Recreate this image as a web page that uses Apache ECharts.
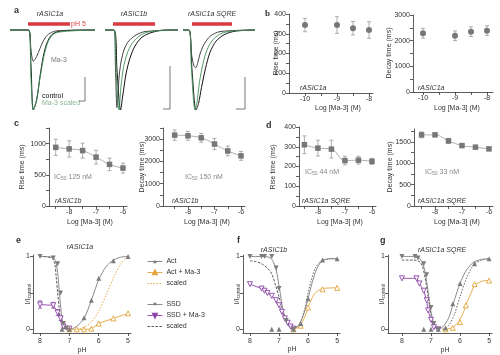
<!DOCTYPE html>
<html><head><meta charset="utf-8">
<script src="https://cdn.jsdelivr.net/npm/echarts@6/dist/echarts.min.js"></script>
<style>html,body{margin:0;padding:0;background:#fff}#c{width:500px;height:355px}</style>
</head><body><div id="c"></div><script>
// ---------- Panel a: current traces (time, normalized current) ----------
const a1Control = [[0,0],[1.85,0],[2.1,-0.45],[2.33,-1.0],[2.67,-0.875],[3.0,-0.58],[3.33,-0.33],[3.67,-0.17],[4.17,-0.06],[4.8,-0.02],[6,-0.005],[8.5,0]];
const a1Ma3 = [[0,0],[1.85,0],[2.1,-0.25],[2.33,-0.39],[2.67,-0.33],[3.0,-0.23],[3.5,-0.1],[4.0,-0.04],[4.7,-0.01],[8.5,0]];
const a1Scaled = [[0,0],[1.85,0],[2.1,-0.62],[2.33,-1.0],[2.67,-0.86],[3.0,-0.6],[3.5,-0.27],[4.0,-0.1],[4.7,-0.03],[8.5,0]];
const a2Control = [[0.5,0],[1.4,0],[1.7,-0.5],[2.05,-1.0],[2.3,-0.8],[2.6,-0.55],[3.0,-0.35],[3.5,-0.2],[4.2,-0.09],[5.2,-0.03],[6.5,0],[7.8,0]];
const a2Ma3 = [[0.5,0],[1.4,0],[1.55,-0.5],[1.7,-0.97],[1.9,-0.6],[2.1,-0.4],[2.4,-0.25],[2.8,-0.15],[3.5,-0.07],[4.5,-0.02],[7.8,0]];
const a2Scaled = [[0.5,0],[1.4,0],[1.6,-0.5],[1.9,-1.0],[2.1,-0.7],[2.35,-0.47],[2.7,-0.3],[3.2,-0.17],[4.0,-0.07],[5.0,-0.02],[7.8,0]];
const a3Control = [[0.3,0],[0.9,0],[1.2,-0.5],[1.6,-1.0],[1.85,-0.92],[2.15,-0.72],[2.55,-0.48],[3.0,-0.28],[3.6,-0.14],[4.4,-0.06],[5.5,-0.015],[7.5,0]];
const a3Scaled = [[0.3,0],[0.9,0],[1.15,-0.5],[1.5,-1.0],[1.7,-0.9],[1.95,-0.65],[2.3,-0.42],[2.7,-0.25],[3.3,-0.12],[4.2,-0.04],[5.5,-0.01],[7.5,0]];
const a3Ma3 = [[0.3,0],[0.9,0],[1.15,-0.3],[1.4,-0.45],[1.6,-0.47],[1.75,-0.42],[2.0,-0.3],[2.4,-0.18],[3.0,-0.08],[4.0,-0.02],[7.5,0]];
const aBars = [[1.8,6.0],[1.3,5.5],[1.2,5.2]];           // pH 5 application
const aScale = [[6.9,7.5,-0.8875,-0.5875],[6.3,7.0,-0.9875,-0.45],[5.6,6.5,-0.9875,-0.5875]];
const aTitles = ['rASIC1a','rASIC1b','rASIC1a SQRE'];

// ---------- Panels b-d: kinetics vs log [Ma-3] ----------
const bConc = [-10, -9, -8.5, -8];
const bRise = [344, 344, 328, 319];
const bRiseErr = [34, 42, 34, 42];
const bDecay = [2290, 2190, 2350, 2390];
const bDecayErr = [190, 190, 190, 190];
const cdConc = [-8.5, -8, -7.5, -7, -6.5, -6];
const cRise = [940, 915, 888, 783, 667, 608];
const cRiseErr = [130, 130, 120, 110, 100, 80];
const cDecay = [3180, 3150, 3060, 2780, 2470, 2250];
const cDecayErr = [230, 200, 200, 250, 220, 200];
const dRise = [310, 293, 288, 230, 232, 226];
const dRiseErr = [45, 40, 45, 22, 20, 15];
const dDecay = [1663, 1663, 1522, 1412, 1375, 1335];
const dDecayErr = [70, 40, 60, 40, 30, 25];
const logTicks = [-10, -9, -8, -7, -6];

// ---------- Panels e-g: pH dependence ----------
const eActPH = [7.25, 7.0, 6.5, 6.25, 6.0, 5.5, 5.0];
const eAct = [0, 0, 0.16, 0.4, 0.7, 0.94, 1.0];
const eActFitPH = [7.1, 6.9, 6.75, 6.5, 6.25, 6.0, 5.75, 5.5, 5.25, 5.0];
const eActFit = [0, 0.01, 0.04, 0.15, 0.4, 0.68, 0.86, 0.95, 0.99, 1.0];
const eActMaPH = [7.0, 6.75, 6.5, 6.25, 6.0, 5.5, 5.0];
const eActMa = [0, 0, 0, 0.01, 0.08, 0.15, 0.22];
const eActScPH = [6.75, 6.5, 6.25, 6.0, 5.75, 5.5, 5.25, 5.0];
const eActSc = [0, 0.03, 0.1, 0.25, 0.47, 0.7, 0.9, 1.0];
const eSsdPH = [8.0, 7.55, 7.4, 7.3, 7.2, 7.1];
const eSsd = [1.0, 0.98, 0.9, 0.5, 0.08, 0.02];
const eSsdFitPH = [8.0, 7.6, 7.5, 7.45, 7.4, 7.35, 7.3, 7.25, 7.2, 7.1, 7.0];
const eSsdFit = [1.0, 0.99, 0.96, 0.9, 0.78, 0.55, 0.32, 0.15, 0.06, 0.01, 0];
const eSsdMaPH = [8.0, 7.55, 7.4, 7.3, 7.2, 7.0];
const eSsdMa = [0.34, 0.33, 0.23, 0.15, 0.04, 0.01];
const eSsdMaErr = [0.05, 0.04, 0.04, 0.03, 0.02, 0.0];
const eSsdScPH = [8.0, 7.6, 7.5, 7.45, 7.4, 7.35, 7.3, 7.2, 7.1];
const eSsdSc = [1.0, 0.98, 0.9, 0.72, 0.5, 0.3, 0.12, 0.02, 0];

const fSsdPH = [8.0, 7.6, 7.5, 7.25, 7.1, 7.0, 6.75, 6.5];
const fSsd = [1, 1, 1, 1, 0.84, 0.56, 0.12, 0.0];
const fSsdFitPH = [8.0, 7.5, 7.3, 7.2, 7.1, 7.0, 6.9, 6.8, 6.7, 6.6, 6.5];
const fSsdFit = [1.0, 1.0, 0.98, 0.93, 0.82, 0.6, 0.35, 0.16, 0.06, 0.02, 0];
const fSsdScPH = [8.0, 7.8, 7.6, 7.4, 7.25, 7.1, 7.0, 6.9, 6.8, 6.7, 6.6, 6.5];
const fSsdSc = [0.94, 0.93, 0.9, 0.84, 0.76, 0.58, 0.45, 0.3, 0.17, 0.07, 0.02, 0];
const fSsdMaPH = [8.0, 7.6, 7.5, 7.4, 7.25, 7.1, 7.0, 6.9, 6.8, 6.7, 6.6, 6.5];
const fSsdMa = [0.62, 0.56, 0.53, 0.5, 0.46, 0.4, 0.33, 0.24, 0.15, 0.09, 0.04, 0.01];
const fActPH = [7.25, 7.0, 6.5, 6.25, 6.0, 5.5, 5.0];
const fAct = [0, 0, 0, 0.08, 0.42, 0.95, 0.97];
const fActFitPH = [6.6, 6.5, 6.4, 6.3, 6.2, 6.1, 6.0, 5.9, 5.8, 5.7, 5.6, 5.5, 5.25, 5.0];
const fActFit = [0, 0.01, 0.03, 0.07, 0.15, 0.27, 0.42, 0.58, 0.72, 0.83, 0.9, 0.94, 0.97, 0.97];
const fActMaPH = [6.5, 6.25, 6.0, 5.5, 5.0];
const fActMa = [0, 0.05, 0.3, 0.55, 0.57];
const fActMaFitPH = [6.5, 6.3, 6.1, 6.0, 5.9, 5.75, 5.5, 5.0];
const fActMaFit = [0, 0.04, 0.18, 0.3, 0.4, 0.5, 0.56, 0.57];
const fActScPH = [6.5, 6.3, 6.1, 6.0, 5.9, 5.75, 5.5, 5.0];
const fActSc = [0, 0.07, 0.3, 0.5, 0.66, 0.84, 0.95, 0.97];

const gSsdPH = [8.0, 7.55, 7.45, 7.25, 7.15, 7.0, 6.9, 6.75];
const gSsd = [1.0, 1.0, 0.98, 0.9, 0.75, 0.3, 0.08, 0];
const gSsdFitPH = [8.0, 7.6, 7.4, 7.3, 7.2, 7.1, 7.0, 6.9, 6.8, 6.7];
const gSsdFit = [1, 1, 0.97, 0.92, 0.78, 0.52, 0.24, 0.08, 0.02, 0];
const gSsdScPH = [8.0, 7.6, 7.4, 7.3, 7.2, 7.1, 7.0, 6.9, 6.75];
const gSsdSc = [0.95, 0.95, 0.93, 0.87, 0.7, 0.45, 0.2, 0.06, 0];
const gSsdMaPH = [8.0, 7.5, 7.4, 7.25, 7.15, 7.1, 7.0, 6.9, 6.75];
const gSsdMa = [0.7, 0.7, 0.63, 0.53, 0.4, 0.26, 0.13, 0.03, 0];
const gActPH = [7.25, 7.0, 6.75, 6.5, 6.25, 6.0, 5.5, 5.0];
const gAct = [0, 0, 0, 0.02, 0.35, 0.63, 0.9, 0.97];
const gActFitPH = [6.8, 6.6, 6.4, 6.25, 6.1, 6.0, 5.8, 5.6, 5.5, 5.25, 5.0];
const gActFit = [0, 0.03, 0.15, 0.33, 0.52, 0.63, 0.8, 0.9, 0.93, 0.96, 0.97];
const gActScPH = [6.6, 6.4, 6.2, 6.0, 5.8, 5.6, 5.5, 5.25, 5.0];
const gActSc = [0, 0.05, 0.2, 0.45, 0.68, 0.85, 0.9, 0.95, 0.97];
const gActMaPH = [6.5, 6.25, 6.0, 5.8, 5.5, 5.0];
const gActMa = [0, 0.02, 0.1, 0.33, 0.62, 0.67];
const gActMaFitPH = [6.6, 6.3, 6.1, 5.9, 5.75, 5.6, 5.5, 5.25, 5.0];
const gActMaFit = [0, 0.02, 0.08, 0.22, 0.38, 0.52, 0.6, 0.66, 0.67];
const phTicks = [8, 7, 6, 5];

// ---------- styling ----------
const FONT = '"Liberation Sans", Arial, sans-serif';
const AX = '#333', GREY = '#7d7d7d', ORANGE = '#e2a53a', PURPLE = '#8c44a8', RED = '#d93a3f', GREEN = '#3f8f5a';
const UP = 'path://M5,0L10,9L0,9Z', DOWN = 'path://M0,0L10,0L5,9Z';

const grids = [], xAxes = [], yAxes = [], series = [], graphics = [];
const pts = (xs, ys) => xs.map((x, i) => [x, ys[i]]);

function axisBase(labels, ticks, extra) {
  return Object.assign({
    type: 'value', splitLine: {show: false},
    axisLine: {show: true, onZero: false, lineStyle: {color: AX, width: 0.8}},
    axisTick: {show: true, length: 3, customValues: ticks, lineStyle: {color: AX, width: 0.8}},
    axisLabel: {customValues: labels, fontSize: 7, color: AX, fontFamily: FONT, margin: 3, formatter: (v) => String(v)}
  }, extra);
}
function addGrid(box, xa, ya) {
  const i = grids.length;
  grids.push(Object.assign({containLabel: false}, box));
  xAxes.push(Object.assign({gridIndex: i}, xa));
  yAxes.push(Object.assign({gridIndex: i}, ya));
  return i;
}
function line(gi, data, color, o) {
  return Object.assign({type: 'line', xAxisIndex: gi, yAxisIndex: gi, data, symbol: 'none',
    lineStyle: {width: 1, color}, itemStyle: {color}, animation: false, silent: true, z: 2}, o || {});
}
function marks(gi, data, color, symbol, open, o) {
  return Object.assign({type: 'line', xAxisIndex: gi, yAxisIndex: gi, data, symbol, symbolSize: 5,
    showAllSymbol: true, lineStyle: {width: 1, color, opacity: 0},
    itemStyle: open ? {color: '#fff', borderColor: color, borderWidth: 0.9} : {color},
    animation: false, silent: true, z: 4}, o || {});
}
function errs(gi, xs, ys, es, color) {
  return {type: 'custom', xAxisIndex: gi, yAxisIndex: gi, z: 3, silent: true, animation: false,
    data: xs.map((x, i) => [x, ys[i], es[i]]),
    renderItem: (p, api) => {
      const x = api.value(0), y = api.value(1), e = api.value(2);
      const a = api.coord([x, y + e]), b = api.coord([x, y - e]);
      const st = {stroke: color, lineWidth: 0.8};
      return {type: 'group', children: [
        {type: 'line', shape: {x1: a[0], y1: a[1], x2: b[0], y2: b[1]}, style: st},
        {type: 'line', shape: {x1: a[0] - 2, y1: a[1], x2: a[0] + 2, y2: a[1]}, style: st},
        {type: 'line', shape: {x1: b[0] - 2, y1: b[1], x2: b[0] + 2, y2: b[1]}, style: st}]};
    }};
}
function text(x, y, str, o) {
  graphics.push({type: 'text', x, y, silent: true,
    style: Object.assign({text: str, fontSize: 7, fill: AX, fontFamily: FONT, textAlign: 'left', textVerticalAlign: 'middle'}, o || {})});
}
function vtext(x, y, str, o) {
  graphics.push({type: 'text', x, y, rotation: Math.PI / 2, silent: true,
    style: Object.assign({text: str, fontSize: 7, fill: AX, fontFamily: FONT, textAlign: 'center', textVerticalAlign: 'middle'}, o || {})});
}

// ---------- Panel a ----------
const aBoxes = [{left: 10, top: 20, width: 85, height: 90}, {left: 100, top: 20, width: 78, height: 90}, {left: 180, top: 20, width: 75, height: 90}];
const aX = [8.5, 7.8, 7.5];
const aTraces = [[a1Control, a1Ma3, a1Scaled], [a2Control, a2Ma3, a2Scaled], [a3Control, a3Ma3, a3Scaled]];
aBoxes.forEach((box, k) => {
  const gi = addGrid(box, {type: 'value', min: 0, max: aX[k], show: false}, {type: 'value', min: -1, max: 0.125, show: false});
  const tr = aTraces[k];
  series.push(line(gi, tr[0], '#111', {smooth: 0.3}));
  series.push(line(gi, tr[1], '#444', {smooth: 0.3}));
  series.push(line(gi, tr[2], GREEN, {smooth: 0.3, lineStyle: {width: 0.9, color: GREEN}}));
  series.push(line(gi, [[aBars[k][0], 0.075], [aBars[k][1], 0.075]], RED, {lineStyle: {width: 3.5, color: RED}}));
  const s = aScale[k];
  series.push(line(gi, [[s[0], s[2]], [s[1], s[2]], [s[1], s[3]]], '#555', {lineStyle: {width: 0.8, color: '#555'}}));
});
text(50, 14, aTitles[0], {textAlign: 'center', fontStyle: 'italic'});
text(134, 14, aTitles[1], {textAlign: 'center', fontStyle: 'italic'});
text(212, 14, aTitles[2], {textAlign: 'center', fontStyle: 'italic'});
text(71, 24, 'pH 5', {fill: RED});
text(51, 60, 'Ma-3', {fill: '#777'});
text(42, 96, 'control', {fill: '#111'});
text(42, 103, 'Ma-3 scaled', {fill: '#8bb596'});
text(14, 11, 'a', {fontWeight: 'bold', fontSize: 9});

// ---------- Panels b-d ----------
function kinPanel(box, xmin, xmax, ymax, yLabels, yTicks, xs, ys, es, sym, fit, xTicks) {
  const gi = addGrid(box,
    axisBase(logTicks, xTicks, {min: xmin, max: xmax}),
    axisBase(yLabels, yTicks, {min: 0, max: ymax}));
  if (fit) series.push(line(gi, pts(xs, ys), '#999', {smooth: 0.4, lineStyle: {width: 0.8, color: '#999'}}));
  series.push(errs(gi, xs, ys, es, '#999'));
  series.push(marks(gi, pts(xs, ys), '#777', sym, false, {symbolSize: sym === 'circle' ? 6 : 5.5}));
}
const bTicks = [-10, -9.5, -9, -8.5, -8];
const cdTicks = [-8.5, -8, -7.5, -7, -6.5, -6];
kinPanel({left: 289, top: 14, width: 84, height: 79}, -10.5, -7.875, 400, [0, 100, 200, 300, 400], [0, 50, 100, 150, 200, 250, 300, 350, 400], bConc, bRise, bRiseErr, 'circle', false, bTicks);
kinPanel({left: 413, top: 15, width: 80, height: 77}, -10.3125, -7.8125, 3000, [0, 1000, 2000, 3000], [0, 500, 1000, 1500, 2000, 2500, 3000], bConc, bDecay, bDecayErr, 'circle', false, bTicks);
kinPanel({left: 49, top: 128, width: 78, height: 78}, -8.75, -5.85, 1250, [0, 500, 1000], [0, 250, 500, 750, 1000, 1250], cdConc, cRise, cRiseErr, 'rect', true, cdTicks);
kinPanel({left: 163, top: 128, width: 82, height: 78}, -8.94, -5.85, 3500, [0, 1000, 2000, 3000], [0, 500, 1000, 1500, 2000, 2500, 3000, 3500], cdConc, cDecay, cDecayErr, 'rect', true, cdTicks);
kinPanel({left: 299, top: 127, width: 77, height: 79}, -8.7, -5.85, 400, [0, 100, 200, 300, 400], [0, 50, 100, 150, 200, 250, 300, 350, 400], cdConc, dRise, dRiseErr, 'rect', true, cdTicks);
kinPanel({left: 414, top: 129, width: 79, height: 77}, -8.78, -5.85, 1800, [0, 500, 1000, 1500], [0, 250, 500, 750, 1000, 1250, 1500, 1750], cdConc, dDecay, dDecayErr, 'rect', true, cdTicks);

text(265, 14, 'b', {fontWeight: 'bold', fontSize: 9, fontFamily: '"Liberation Serif", serif'});
vtext(276, 53, 'Rise time (ms)');
vtext(389, 53, 'Decay time (ms)');
text(338, 108, 'Log [Ma-3] (M)', {textAlign: 'center'});
text(457, 108, 'Log [Ma-3] (M)', {textAlign: 'center'});
text(300, 88, 'rASIC1a', {fontStyle: 'italic'});
text(418, 88, 'rASIC1a', {fontStyle: 'italic'});

text(14, 124, 'c', {fontWeight: 'bold', fontSize: 9});
vtext(22, 167, 'Rise time (ms)');
vtext(142, 167, 'Decay time (ms)');
text(90, 222, 'Log [Ma-3] (M)', {textAlign: 'center'});
text(207, 222, 'Log [Ma-3] (M)', {textAlign: 'center'});
const ic = (v) => ({text: '{a|IC}{s|50}{a| ' + v + '}', rich: {a: {fontSize: 7, fill: '#888', fontFamily: FONT}, s: {fontSize: 5, fill: '#888', fontFamily: FONT, padding: [4, 0, 0, 0]}}});
text(54, 177, '', ic('125 nM'));
text(185, 177, '', ic('150 nM'));
text(55, 201, 'rASIC1b', {fontStyle: 'italic'});
text(172, 201, 'rASIC1b', {fontStyle: 'italic'});

text(266, 126, 'd', {fontWeight: 'bold', fontSize: 9});
vtext(273, 167, 'Rise time (ms)');
vtext(390, 167, 'Decay time (ms)');
text(340, 222, 'Log [Ma-3] (M)', {textAlign: 'center'});
text(457, 222, 'Log [Ma-3] (M)', {textAlign: 'center'});
text(305, 172, '', ic('44 nM'));
text(425, 172, '', ic('33 nM'));
text(302, 201, 'rASIC1a SQRE', {fontStyle: 'italic'});
text(418, 201, 'rASIC1a SQRE', {fontStyle: 'italic'});

// ---------- Panels e-g ----------
function phGrid(box, xmin) {
  return addGrid(box,
    axisBase(phTicks, phTicks, {min: 4.9, max: xmin, inverse: true, axisLabel: {customValues: phTicks, fontSize: 7, color: AX, fontFamily: FONT, margin: 5}}),
    axisBase([0, 1], [0, 0.5, 1], {min: -0.05, max: 1.02}));
}
function phPanel(gi, d, named) {
  const n = (s) => named ? {name: s} : {};
  series.push(line(gi, pts(d.ssdScPH, d.ssdSc), '#444', Object.assign({smooth: 0.3, itemStyle: {opacity: 0}, lineStyle: {width: 0.9, color: '#444', type: [2.5, 1.5]}}, n('SSD scaled'))));
  series.push(line(gi, pts(d.ssdFitPH, d.ssdFit), GREY, {smooth: 0.3, lineStyle: {width: 0.9, color: GREY}}));
  series.push(line(gi, pts(d.actScPH, d.actSc), d.actScColor, Object.assign({smooth: 0.3, itemStyle: {opacity: 0}, lineStyle: {width: 0.9, color: d.actScColor, type: [1.5, 1.5]}}, n('Act scaled'))));
  series.push(line(gi, pts(d.actFitPH, d.actFit), GREY, {smooth: 0.3, lineStyle: {width: 0.9, color: GREY}}));
  if (d.actMaFitPH) series.push(line(gi, pts(d.actMaFitPH, d.actMaFit), ORANGE, {smooth: 0.3, lineStyle: {width: 0.9, color: ORANGE}}));
  series.push(marks(gi, pts(d.ssdMaPH, d.ssdMa), PURPLE, DOWN, true, Object.assign({lineStyle: {width: 0.9, color: PURPLE}}, n('SSD + Ma-3'))));
  series.push(marks(gi, pts(d.actMaPH, d.actMa), ORANGE, UP, true, Object.assign({lineStyle: {width: 0.9, color: ORANGE, opacity: d.actMaFitPH ? 0 : 1}, smooth: 0.3}, n('Act + Ma-3'))));
  series.push(marks(gi, pts(d.ssdPH, d.ssd), GREY, DOWN, false, Object.assign({lineStyle: {width: 0.9, color: GREY, opacity: 0}}, n('SSD'))));
  series.push(marks(gi, pts(d.actPH, d.act), GREY, UP, false, Object.assign({lineStyle: {width: 0.9, color: GREY, opacity: 0}}, n('Act'))));
  if (d.ssdMaErr) series.push(errs(gi, d.ssdMaPH, d.ssdMa, d.ssdMaErr, PURPLE));
}
const ge = phGrid({left: 33, top: 255, width: 98, height: 78}, 8.24);
phPanel(ge, {ssdScPH: eSsdScPH, ssdSc: eSsdSc, ssdFitPH: eSsdFitPH, ssdFit: eSsdFit, actScPH: eActScPH, actSc: eActSc, actScColor: ORANGE,
  actFitPH: eActFitPH, actFit: eActFit, ssdMaPH: eSsdMaPH, ssdMa: eSsdMa, ssdMaErr: eSsdMaErr, actMaPH: eActMaPH, actMa: eActMa,
  ssdPH: eSsdPH, ssd: eSsd, actPH: eActPH, act: eAct}, true);
const gf = phGrid({left: 243, top: 255, width: 97, height: 78}, 8.24);
phPanel(gf, {ssdScPH: fSsdScPH, ssdSc: fSsdSc, ssdFitPH: fSsdFitPH, ssdFit: fSsdFit, actScPH: fActScPH, actSc: fActSc, actScColor: '#555',
  actFitPH: fActFitPH, actFit: fActFit, actMaFitPH: fActMaFitPH, actMaFit: fActMaFit, ssdMaPH: fSsdMaPH, ssdMa: fSsdMa, actMaPH: fActMaPH, actMa: fActMa,
  ssdPH: fSsdPH, ssd: fSsd, actPH: fActPH, act: fAct}, false);
const gg = phGrid({left: 388, top: 255, width: 104, height: 78}, 8.48);
phPanel(gg, {ssdScPH: gSsdScPH, ssdSc: gSsdSc, ssdFitPH: gSsdFitPH, ssdFit: gSsdFit, actScPH: gActScPH, actSc: gActSc, actScColor: '#555',
  actFitPH: gActFitPH, actFit: gActFit, actMaFitPH: gActMaFitPH, actMaFit: gActMaFit, ssdMaPH: gSsdMaPH, ssdMa: gSsdMa, actMaPH: gActMaPH, actMa: gActMa,
  ssdPH: gSsdPH, ssd: gSsd, actPH: gActPH, act: gAct}, false);

const iLab = {text: '{a|I/I}{s|control}', rich: {a: {fontSize: 7, fill: AX, fontFamily: FONT}, s: {fontSize: 5, fill: AX, fontFamily: FONT, padding: [3, 0, 0, 0]}}};
vtext(28, 294, '', iLab);
vtext(237, 294, '', iLab);
vtext(382, 294, '', iLab);
text(16, 241, 'e', {fontWeight: 'bold', fontSize: 9});
text(237, 241, 'f', {fontWeight: 'bold', fontSize: 9});
text(380, 241, 'g', {fontWeight: 'bold', fontSize: 9});
text(80, 247, 'rASIC1a', {textAlign: 'center', fontStyle: 'italic'});
text(274, 250, 'rASIC1b', {textAlign: 'center', fontStyle: 'italic'});
text(442, 250, 'rASIC1a SQRE', {textAlign: 'center', fontStyle: 'italic'});
text(82, 350, 'pH', {textAlign: 'center'});
text(292, 349, 'pH', {textAlign: 'center'});
text(445, 350, 'pH', {textAlign: 'center'});

const legBase = {orient: 'vertical', left: 142, itemWidth: 15, itemHeight: 4.5, itemGap: 4, selectedMode: false,
  textStyle: {fontSize: 7, color: AX, fontFamily: FONT, padding: [0, 0, 0, -1]},
  lineStyle: {opacity: 1, width: 0.9}, formatter: (n) => n.endsWith('scaled') ? 'scaled' : n};

const chart = echarts.init(document.getElementById('c'), null, {renderer: 'canvas'});
chart.setOption({
  animation: false, backgroundColor: '#fff',
  grid: grids, xAxis: xAxes, yAxis: yAxes, series,
  legend: [Object.assign({top: 253, data: ['Act', 'Act + Ma-3', 'Act scaled']}, legBase),
           Object.assign({top: 296, data: ['SSD', 'SSD + Ma-3', 'SSD scaled']}, legBase)],
  graphic: {elements: graphics}
});
</script></body></html>
